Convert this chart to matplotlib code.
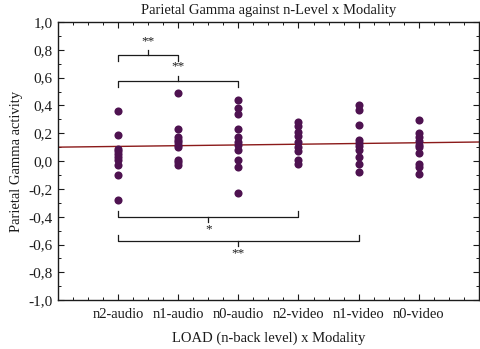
import matplotlib

matplotlib.use("Agg")
import matplotlib.pyplot as plt
from matplotlib.ticker import FixedLocator, MultipleLocator, FuncFormatter

plt.rcParams["font.family"] = ["Liberation Serif", "DejaVu Serif"]

INK = "#1b1b1b"
DOT = "#4e1250"
LINE = "#8b1a1a"

categories = ["n2-audio", "n1-audio", "n0-audio", "n2-video", "n1-video", "n0-video"]
n2_audio = [0.36, 0.19, 0.09, 0.07, 0.05, 0.03, 0.01, -0.03, -0.10, -0.28]
n1_audio = [0.49, 0.23, 0.175, 0.155, 0.135, 0.115, 0.10, 0.01, -0.01, -0.03]
n0_audio = [0.44, 0.38, 0.34, 0.23, 0.17, 0.14, 0.115, 0.08, 0.01, -0.045, -0.23]
n2_video = [0.28, 0.25, 0.21, 0.18, 0.14, 0.10, 0.07, 0.01, -0.02]
n1_video = [0.40, 0.37, 0.26, 0.15, 0.13, 0.11, 0.08, 0.03, -0.02, -0.08]
n0_video = [0.295, 0.20, 0.175, 0.145, 0.115, 0.10, 0.055, -0.02, -0.045, -0.095]
groups = [n2_audio, n1_audio, n0_audio, n2_video, n1_video, n0_video]

# fitted line, value at the left and right edge of the axis
fit_x = [0, 7]
fit_y = [0.10, 0.137]

# significance brackets: (from category, to category, bracket y, label)
brackets_top = [(1, 2, 0.76, "**"), (1, 3, 0.575, "**")]
brackets_bottom = [(1, 4, -0.40, "*"), (1, 5, -0.575, "**")]

fig = plt.figure(figsize=(4.81, 3.49), dpi=100)
ax = fig.add_axes([0.120, 0.140, 0.876, 0.797])

for i, vals in enumerate(groups, start=1):
    ax.scatter([i] * len(vals), vals, s=34, color=DOT, zorder=3, linewidths=0)

ax.plot(fit_x, fit_y, color=LINE, linewidth=1.0, zorder=2)

def bracket(x0, x1, y, label, up):
    d = 0.04 if up else -0.04
    mid = (x0 + x1) / 2
    ax.plot([x0, x0, x1, x1], [y - d, y, y, y - d], color=INK, linewidth=0.9)
    ax.plot([mid, mid], [y, y + d * 0.9], color=INK, linewidth=0.9)
    ty = y + (0.06 if up else -0.09)
    ax.text(mid, ty, label, ha="center", va="bottom" if up else "center",
            fontsize=9.5, color=INK)

for x0, x1, y, lab in brackets_top:
    bracket(x0, x1, y, lab, True)
for x0, x1, y, lab in brackets_bottom:
    bracket(x0, x1, y, lab, False)

ax.set_xlim(0, 7)
ax.set_ylim(-1, 1)
ax.xaxis.set_major_locator(FixedLocator(range(1, 7)))
ax.set_xticklabels(categories, fontsize=10.5, color=INK)
ax.xaxis.set_minor_locator(MultipleLocator(0.25))
ax.yaxis.set_major_locator(MultipleLocator(0.2))
ax.yaxis.set_minor_locator(MultipleLocator(0.1))
ax.yaxis.set_major_formatter(FuncFormatter(lambda v, p: f"{v:.1f}".replace(".", ",").replace("-0,0", "0,0")))
ax.tick_params(which="both", direction="in", top=True, right=True, colors=INK)
ax.tick_params(axis="y", labelsize=11)
ax.tick_params(axis="x", labelsize=10.5, pad=6)
ax.tick_params(which="major", length=4, width=0.8)
ax.tick_params(which="minor", length=2.5, width=0.7)
for s in ax.spines.values():
    s.set_linewidth(1.0)
    s.set_color(INK)

ax.set_title("Parietal Gamma against n-Level x Modality", fontsize=10.5, color=INK, pad=6)
ax.set_xlabel("LOAD (n-back level) x Modality", fontsize=10.5, color=INK, labelpad=7)
ax.set_ylabel("Parietal Gamma activity", fontsize=10.5, color=INK, labelpad=4)

fig.savefig("out.png", dpi=100)
